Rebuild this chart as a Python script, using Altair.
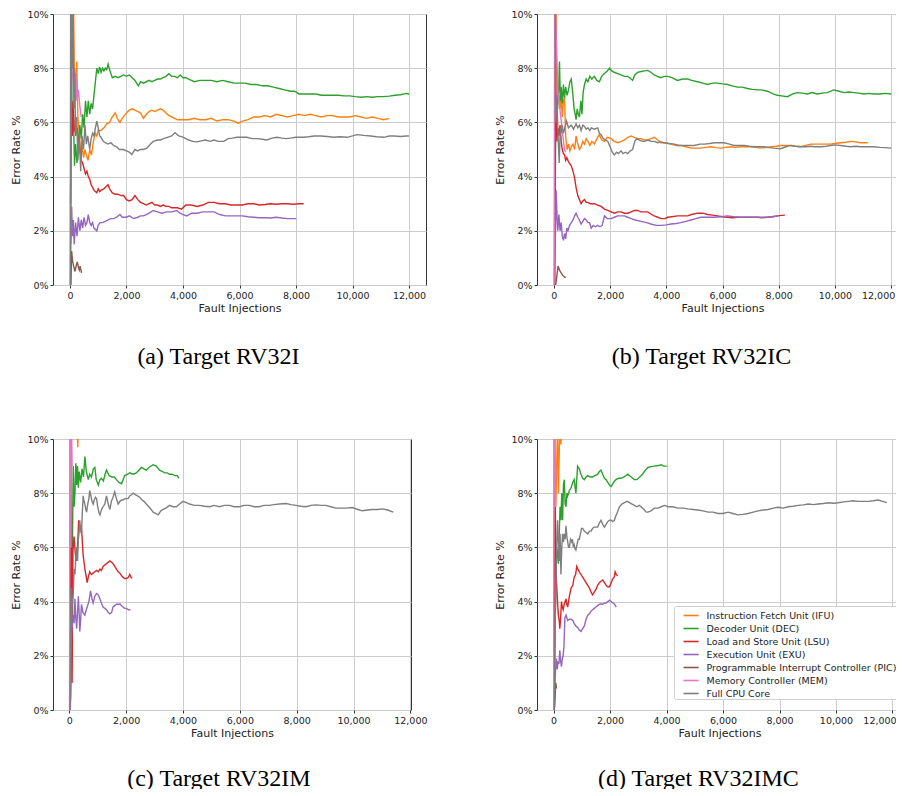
import altair as alt
import pandas as pd

SERIES = ["Instruction Fetch Unit (IFU)", "Decoder Unit (DEC)", "Load and Store Unit (LSU)",
          "Execution Unit (EXU)", "Programmable Interrupt Controller (PIC)",
          "Memory Controller (MEM)", "Full CPU Core"]
COLORS = ["#ff7f0e", "#2ca02c", "#d62728", "#9467bd", "#8c564b", "#e377c2", "#7f7f7f"]
X_TICKS = [0, 2000, 4000, 6000, 8000, 10000, 12000]
Y_TICKS = [0, 2, 4, 6, 8, 10]
CAPTIONS = ["(a) Target RV32I", "(b) Target RV32IC", "(c) Target RV32IM", "(d) Target RV32IMC"]

# ---------------- Panel (a) RV32I ----------------
A_IFU = [(20, 0), (40, 12), (80, 9), (120, 11), (160, 7.5), (200, 6.8), (240, 8.25), (280, 6.2), (330, 5.6),
         (380, 4.9), (430, 5.1), (480, 4.7), (530, 5.0), (580, 4.8), (640, 4.6), (700, 5.0), (760, 4.8),
         (830, 5.3), (900, 5.6), (950, 5.5), (1000, 5.7), (1100, 5.7), (1200, 5.8), (1300, 5.95), (1400, 6.0),
         (1500, 6.2), (1600, 6.35), (1700, 6.1), (1770, 6.0), (1850, 6.15), (2000, 6.35), (2100, 6.45),
         (2200, 6.5), (2300, 6.45), (2400, 6.4), (2500, 6.35), (2600, 6.15), (2700, 6.3), (2800, 6.4),
         (2900, 6.45), (3000, 6.4), (3100, 6.45), (3200, 6.5), (3300, 6.45), (3400, 6.35), (3500, 6.25),
         (3600, 6.2), (3700, 6.15), (3800, 6.1), (4000, 6.1), (4200, 6.1), (4400, 6.15), (4600, 6.1),
         (4800, 6.1), (5000, 6.15), (5200, 6.05), (5400, 6.1), (5600, 6.1), (5800, 6.05), (5950, 5.97),
         (6100, 6.05), (6300, 6.1), (6500, 6.2), (6700, 6.2), (6900, 6.25), (7100, 6.2), (7300, 6.3),
         (7500, 6.25), (7700, 6.2), (7900, 6.25), (8100, 6.3), (8300, 6.25), (8500, 6.3), (8700, 6.25),
         (8900, 6.2), (9100, 6.25), (9300, 6.25), (9500, 6.2), (9700, 6.2), (9900, 6.2), (10100, 6.25),
         (10300, 6.2), (10500, 6.15), (10700, 6.2), (10900, 6.15), (11100, 6.1), (11300, 6.15)]
A_DEC = [(20, 0), (50, 9), (80, 5.5), (120, 6.5), (160, 4.4), (200, 5.2), (250, 4.5), (300, 5.3), (350, 5.9),
         (400, 5.4), (450, 6.3), (500, 5.8), (550, 6.8), (600, 6.2), (650, 6.8), (700, 6.3), (750, 6.7),
         (800, 6.5), (850, 7.0), (900, 7.5), (950, 8.0), (1000, 7.8), (1050, 8.05), (1100, 7.85), (1150, 8.0),
         (1200, 7.9), (1250, 8.0), (1300, 7.95), (1350, 8.15), (1400, 7.95), (1450, 7.8), (1500, 7.65),
         (1600, 7.7), (1700, 7.65), (1800, 7.7), (1900, 7.75), (2000, 7.7), (2100, 7.75), (2200, 7.65),
         (2300, 7.55), (2420, 7.35), (2500, 7.5), (2600, 7.45), (2700, 7.5), (2800, 7.55), (2900, 7.5),
         (3000, 7.55), (3100, 7.6), (3200, 7.6), (3300, 7.65), (3400, 7.7), (3500, 7.8), (3600, 7.7),
         (3700, 7.7), (3800, 7.65), (3900, 7.75), (4000, 7.65), (4100, 7.65), (4200, 7.6), (4300, 7.55),
         (4400, 7.5), (4600, 7.55), (4800, 7.55), (5000, 7.55), (5200, 7.5), (5400, 7.55), (5600, 7.5),
         (5800, 7.45), (6000, 7.45), (6200, 7.45), (6400, 7.4), (6600, 7.4), (6800, 7.35), (7000, 7.35),
         (7200, 7.3), (7400, 7.25), (7600, 7.2), (7800, 7.15), (7950, 7.15), (8100, 7.05), (8300, 7.05),
         (8500, 7.05), (8700, 7.05), (8900, 7.0), (9100, 7.0), (9300, 7.0), (9500, 7.0), (9700, 6.98),
         (9900, 6.98), (10100, 6.95), (10300, 6.93), (10500, 6.95), (10700, 6.93), (10900, 6.95),
         (11100, 6.95), (11300, 6.97), (11500, 7.0), (11700, 7.02), (11900, 7.07), (12000, 7.05)]
A_LSU = [(20, 3.0), (50, 6.8), (80, 5.5), (110, 6.8), (150, 5.8), (200, 5.6), (250, 5.8), (300, 5.2), (350, 5.0),
         (400, 4.6), (450, 4.5), (500, 4.3), (550, 4.1), (600, 4.2), (650, 4.0), (700, 3.9), (750, 3.7),
         (800, 3.6), (850, 3.5), (900, 3.45), (950, 3.4), (1000, 3.55), (1050, 3.45), (1100, 3.5), (1200, 3.55),
         (1300, 3.65), (1350, 3.7), (1400, 3.55), (1500, 3.4), (1600, 3.35), (1700, 3.35), (1800, 3.3),
         (1900, 3.3), (2000, 3.15), (2100, 3.1), (2200, 3.15), (2300, 3.3), (2400, 3.15), (2500, 3.05),
         (2600, 3.0), (2700, 2.95), (2800, 3.0), (2900, 3.05), (3000, 2.95), (3100, 2.95), (3200, 2.9),
         (3300, 2.95), (3400, 2.9), (3500, 2.9), (3600, 2.85), (3800, 2.85), (3950, 2.8), (4100, 2.95),
         (4300, 2.95), (4500, 2.9), (4700, 2.95), (4900, 3.05), (5100, 3.05), (5300, 3.0), (5500, 3.0),
         (5700, 2.95), (5900, 2.95), (6100, 2.95), (6300, 3.0), (6500, 3.0), (6700, 2.95), (6900, 2.97),
         (7100, 3.0), (7300, 2.98), (7500, 3.0), (7700, 3.0), (7900, 2.98), (8100, 3.0), (8270, 3.0)]
A_EXU = [(30, 1.5), (60, 2.9), (90, 1.8), (120, 2.4), (150, 1.5), (200, 2.3), (250, 1.8), (300, 2.5), (350, 2.0),
         (400, 2.4), (450, 2.1), (500, 2.5), (550, 2.2), (600, 2.3), (650, 2.6), (700, 2.3), (750, 2.2),
         (800, 2.3), (850, 2.1), (950, 2.0), (1000, 2.2), (1060, 2.3), (1150, 2.3), (1250, 2.35), (1350, 2.4),
         (1450, 2.45), (1550, 2.45), (1650, 2.5), (1770, 2.6), (1850, 2.5), (2000, 2.5), (2100, 2.55),
         (2250, 2.45), (2400, 2.5), (2500, 2.55), (2600, 2.55), (2700, 2.6), (2800, 2.65), (2950, 2.75),
         (3100, 2.7), (3250, 2.65), (3430, 2.7), (3600, 2.7), (3780, 2.75), (3900, 2.65), (4000, 2.6),
         (4140, 2.55), (4300, 2.65), (4500, 2.65), (4700, 2.7), (4900, 2.7), (5100, 2.7), (5300, 2.6),
         (5500, 2.55), (5700, 2.55), (5900, 2.55), (6100, 2.55), (6300, 2.52), (6500, 2.5), (6700, 2.48),
         (6900, 2.48), (7100, 2.47), (7300, 2.5), (7500, 2.47), (7700, 2.45), (7900, 2.45), (8010, 2.45)]
A_PIC = [(30, 0), (60, 1.25), (90, 0.9), (130, 0.7), (180, 0.5), (220, 0.7), (260, 0.85), (300, 0.65),
         (330, 0.55), (360, 0.7), (410, 0.45)]
A_MEM = [(20, 2.0), (40, 11), (70, 8.0), (110, 7.5), (150, 6.9), (200, 7.8), (250, 6.8), (300, 7.2),
         (350, 6.6), (400, 6.2)]
A_CPU = [(10, 0), (30, 14), (50, 6), (70, 12), (90, 8), (110, 10.5), (140, 6.5), (170, 8), (200, 5.5),
         (240, 6.2), (280, 4.6), (330, 5.5), (380, 4.2), (430, 5.5), (480, 5.0), (530, 5.9), (580, 5.2),
         (630, 5.5), (700, 5.0), (750, 5.4), (800, 5.6), (850, 5.5), (900, 5.8), (950, 6.05), (1000, 5.8),
         (1050, 5.5), (1100, 5.45), (1180, 5.3), (1250, 5.25), (1350, 5.2), (1450, 5.25), (1540, 5.15),
         (1650, 5.1), (1750, 5.0), (1890, 5.0), (2000, 4.95), (2100, 4.9), (2190, 4.82), (2300, 5.0),
         (2400, 4.95), (2480, 5.0), (2600, 5.0), (2720, 5.05), (2850, 5.2), (2950, 5.3), (3100, 5.35),
         (3200, 5.35), (3310, 5.4), (3450, 5.45), (3600, 5.5), (3720, 5.62), (3850, 5.5), (4020, 5.45),
         (4200, 5.35), (4350, 5.3), (4490, 5.28), (4650, 5.32), (4800, 5.35), (4960, 5.3), (5100, 5.35),
         (5250, 5.3), (5440, 5.3), (5600, 5.4), (5750, 5.42), (5910, 5.45), (6100, 5.45), (6260, 5.45),
         (6450, 5.4), (6650, 5.4), (6800, 5.38), (6970, 5.35), (7150, 5.42), (7330, 5.45), (7500, 5.42),
         (7650, 5.4), (7800, 5.42), (8000, 5.45), (8270, 5.45), (8450, 5.47), (8650, 5.5), (8870, 5.5),
         (9100, 5.48), (9340, 5.45), (9550, 5.47), (9810, 5.45), (10000, 5.5), (10160, 5.55), (10400, 5.52),
         (10640, 5.5), (10850, 5.47), (11110, 5.45), (11300, 5.5), (11470, 5.5), (11700, 5.48), (11900, 5.5),
         (12000, 5.5)]

# ---------------- Panel (b) RV32IC ----------------
B_IFU = [(30, 0), (60, 12), (100, 8), (140, 6.8), (180, 7.0), (220, 6.5), (260, 6.9), (300, 6.2), (340, 6.8),
         (380, 6.9), (420, 5.5), (470, 5.0), (520, 5.2), (570, 4.95), (620, 5.1), (680, 5.2), (740, 5.0),
         (790, 5.5), (850, 5.2), (910, 5.0), (970, 5.1), (1030, 5.3), (1090, 5.2), (1150, 5.4), (1210, 5.3),
         (1280, 5.15), (1350, 5.3), (1440, 5.2), (1530, 5.4), (1620, 5.55), (1700, 5.35), (1800, 5.3),
         (1900, 5.45), (2040, 5.4), (2150, 5.3), (2270, 5.25), (2400, 5.3), (2510, 5.35), (2630, 5.45),
         (2750, 5.5), (2860, 5.45), (2980, 5.4), (3100, 5.4), (3220, 5.35), (3340, 5.35), (3450, 5.4),
         (3570, 5.45), (3700, 5.35), (3810, 5.25), (3950, 5.25), (4170, 5.2), (4350, 5.15), (4520, 5.15),
         (4700, 5.1), (4880, 5.05), (5050, 5.05), (5230, 5.05), (5400, 5.08), (5590, 5.1), (5750, 5.07),
         (5940, 5.05), (6100, 5.08), (6300, 5.1), (6450, 5.08), (6650, 5.1), (6800, 5.1), (7010, 5.1),
         (7200, 5.08), (7360, 5.05), (7550, 5.08), (7720, 5.1), (7900, 5.12), (8070, 5.15), (8250, 5.15),
         (8430, 5.15), (8600, 5.12), (8780, 5.1), (8950, 5.15), (9140, 5.2), (9300, 5.2), (9490, 5.2),
         (9700, 5.2), (9850, 5.2), (10000, 5.22), (10200, 5.25), (10400, 5.27), (10560, 5.3), (10750, 5.28),
         (10910, 5.25), (11170, 5.25)]
B_DEC = [(30, 0), (60, 5), (90, 7.0), (130, 6.5), (170, 7.2), (200, 8.25), (230, 6.8), (260, 7.3), (300, 6.7),
         (340, 7.4), (380, 6.9), (420, 7.3), (470, 7.0), (520, 7.2), (570, 7.5), (620, 7.6), (670, 7.1),
         (720, 6.5), (760, 6.3), (790, 6.1), (830, 6.5), (870, 6.3), (910, 6.2), (960, 6.8), (1000, 6.3),
         (1040, 7.1), (1090, 7.4), (1150, 7.6), (1210, 7.5), (1280, 7.7), (1350, 7.6), (1440, 7.7),
         (1530, 7.55), (1620, 7.5), (1700, 7.7), (1800, 7.8), (1900, 7.9), (1980, 8.0), (2060, 7.9),
         (2150, 7.85), (2270, 7.8), (2390, 7.75), (2510, 7.7), (2630, 7.7), (2750, 7.6), (2800, 7.55),
         (2880, 7.75), (2980, 7.85), (3100, 7.88), (3220, 7.9), (3340, 7.92), (3450, 7.85), (3570, 7.75),
         (3690, 7.7), (3800, 7.65), (3930, 7.7), (4050, 7.7), (4200, 7.65), (4400, 7.55), (4580, 7.6),
         (4760, 7.6), (4900, 7.55), (5110, 7.5), (5300, 7.45), (5470, 7.4), (5650, 7.45), (5820, 7.45),
         (6000, 7.42), (6180, 7.4), (6350, 7.35), (6530, 7.3), (6700, 7.3), (6890, 7.25), (7050, 7.22),
         (7240, 7.2), (7400, 7.2), (7600, 7.15), (7800, 7.05), (7950, 7.0), (8100, 6.98), (8310, 6.95),
         (8500, 7.05), (8660, 7.1), (8850, 7.08), (9020, 7.05), (9200, 7.1), (9370, 7.05), (9550, 7.08),
         (9730, 7.1), (9960, 7.2), (10150, 7.15), (10320, 7.1), (10500, 7.12), (10670, 7.1), (10850, 7.08),
         (11030, 7.05), (11200, 7.07), (11390, 7.05), (11600, 7.05), (11800, 7.07), (12000, 7.05)]
B_LSU = [(20, 0), (50, 10.5), (80, 6.0), (110, 5.3), (140, 5.8), (180, 5.5), (220, 5.9), (260, 5.3), (300, 5.0),
         (340, 4.85), (380, 4.8), (420, 4.6), (460, 4.7), (500, 4.6), (550, 4.5), (620, 4.4), (680, 4.2),
         (730, 4.0), (790, 3.6), (850, 3.3), (910, 3.15), (970, 3.0), (1030, 3.1), (1090, 3.15), (1150, 3.05),
         (1210, 3.05), (1300, 3.0), (1440, 3.0), (1560, 2.95), (1680, 2.9), (1800, 2.8), (1920, 2.75),
         (2040, 2.7), (2150, 2.65), (2270, 2.7), (2390, 2.7), (2510, 2.65), (2630, 2.65), (2750, 2.7),
         (2860, 2.75), (2980, 2.75), (3100, 2.7), (3220, 2.7), (3340, 2.7), (3450, 2.62), (3570, 2.55),
         (3700, 2.5), (3810, 2.45), (3950, 2.45), (4050, 2.5), (4200, 2.52), (4400, 2.55), (4580, 2.55),
         (4760, 2.55), (4900, 2.6), (5110, 2.65), (5300, 2.65), (5470, 2.6), (5650, 2.58), (5820, 2.55),
         (6000, 2.52), (6180, 2.5), (6350, 2.48), (6530, 2.5), (6700, 2.5), (6890, 2.5), (7050, 2.5),
         (7240, 2.5), (7400, 2.48), (7600, 2.5), (7800, 2.52), (7950, 2.55), (8100, 2.57), (8220, 2.58)]
B_EXU = [(30, 1.0), (60, 2.0), (80, 3.5), (110, 2.6), (140, 2.0), (180, 2.6), (220, 2.0), (260, 2.3), (300, 1.8),
         (340, 1.65), (380, 1.9), (420, 1.7), (460, 2.1), (500, 2.0), (560, 2.2), (620, 2.3), (680, 2.4),
         (740, 2.55), (790, 2.65), (850, 2.5), (910, 2.4), (970, 2.25), (1030, 2.35), (1090, 2.45),
         (1150, 2.4), (1210, 2.3), (1270, 2.3), (1330, 2.1), (1400, 2.2), (1480, 2.15), (1560, 2.2),
         (1640, 2.15), (1720, 2.2), (1800, 2.55), (1900, 2.45), (2040, 2.45), (2150, 2.5), (2270, 2.55),
         (2390, 2.55), (2510, 2.55), (2630, 2.5), (2750, 2.45), (2900, 2.4), (3100, 2.35), (3300, 2.3),
         (3450, 2.25), (3650, 2.2), (3810, 2.2), (4000, 2.22), (4170, 2.25), (4350, 2.27), (4520, 2.3),
         (4700, 2.35), (4880, 2.4), (5050, 2.45), (5230, 2.5), (5450, 2.5), (5700, 2.5), (5950, 2.52),
         (6180, 2.55), (6400, 2.52), (6650, 2.5), (6900, 2.5), (7120, 2.5), (7350, 2.5), (7600, 2.5),
         (7800, 2.53), (8010, 2.55)]
B_PIC = [(60, 0), (90, 0.2), (150, 0.7), (200, 0.55), (260, 0.45), (320, 0.35), (380, 0.3), (420, 0.27)]
B_MEM = [(10, 0), (30, 12), (60, 10), (100, 8.5), (150, 7.0), (200, 6.6), (260, 6.1), (320, 5.5), (380, 5.0),
         (420, 4.9)]
B_CPU = [(20, 10), (40, 12), (60, 6.0), (90, 7.0), (120, 6.5), (150, 5.5), (190, 4.5), (230, 5.8), (260, 5.6),
         (300, 5.9), (340, 5.6), (380, 5.75), (450, 6.05), (520, 5.8), (620, 5.9), (700, 5.75), (790, 5.95),
         (850, 5.8), (910, 5.9), (970, 5.7), (1030, 5.9), (1090, 5.85), (1150, 5.75), (1210, 5.8), (1280, 5.7),
         (1330, 5.8), (1440, 5.75), (1560, 5.8), (1620, 5.6), (1680, 5.55), (1760, 5.4), (1850, 5.35),
         (1920, 5.3), (2000, 5.1), (2080, 4.9), (2150, 4.8), (2230, 4.9), (2300, 4.85), (2390, 4.95),
         (2460, 4.85), (2550, 4.9), (2630, 4.85), (2720, 4.95), (2800, 5.0), (2880, 5.3), (2950, 5.4),
         (3050, 5.35), (3150, 5.3), (3220, 5.3), (3350, 5.35), (3450, 5.3), (3570, 5.3), (3700, 5.25),
         (3800, 5.28), (3930, 5.25), (4100, 5.22), (4290, 5.2), (4450, 5.15), (4640, 5.15), (4800, 5.15),
         (5000, 5.15), (5200, 5.2), (5350, 5.2), (5550, 5.22), (5710, 5.25), (5900, 5.25), (6060, 5.25),
         (6250, 5.2), (6410, 5.15), (6600, 5.15), (6770, 5.15), (6950, 5.12), (7120, 5.1), (7300, 5.1),
         (7480, 5.1), (7650, 5.07), (7830, 5.05), (8070, 5.03), (8250, 5.1), (8430, 5.15), (8600, 5.12),
         (8780, 5.1), (8950, 5.1), (9140, 5.12), (9300, 5.1), (9490, 5.1), (9700, 5.12), (9850, 5.15),
         (10000, 5.17), (10200, 5.15), (10400, 5.12), (10560, 5.1), (10750, 5.12), (10910, 5.1),
         (11150, 5.1), (11390, 5.1), (11600, 5.08), (11800, 5.07), (12000, 5.05)]

# ---------------- Panel (c) RV32IM ----------------
C_IFU = [(20, 0), (35, 12), (60, 9.0), (90, 11), (150, 11), (200, 10.8), (260, 11.5), (300, 9.7), (320, 10.5)]
C_DEC = [(20, 0), (50, 0.5), (80, 2.5), (110, 6), (140, 9.0), (170, 7.5), (200, 8.0), (230, 9.1), (260, 8.3),
         (290, 9.0), (320, 8.2), (350, 8.8), (400, 8.4), (450, 8.9), (500, 8.6), (550, 9.35), (600, 8.8),
         (670, 8.5), (720, 8.7), (780, 8.6), (850, 8.9), (900, 8.95), (950, 8.5), (1020, 8.3), (1080, 8.5),
         (1130, 8.55), (1200, 8.45), (1260, 8.7), (1310, 8.85), (1400, 8.65), (1490, 8.6), (1580, 8.6),
         (1660, 8.5), (1750, 8.4), (1840, 8.35), (1950, 8.65), (2050, 8.7), (2130, 8.75), (2250, 8.7),
         (2360, 8.75), (2450, 8.85), (2540, 8.95), (2630, 8.9), (2710, 8.85), (2800, 8.95), (2950, 9.05),
         (3060, 9.0), (3180, 8.85), (3280, 8.8), (3360, 8.75), (3450, 8.75), (3530, 8.7), (3620, 8.7),
         (3710, 8.65), (3800, 8.65), (3860, 8.55)]
C_LSU = [(40, 2), (70, 8.9), (100, 1.0), (130, 5.9), (170, 6.4), (210, 5.8), (260, 5.5), (300, 6.2), (330, 7.0),
         (370, 6.8), (430, 6.7), (490, 5.7), (550, 5.2), (600, 4.9), (630, 4.7), (680, 4.95), (720, 5.1),
         (780, 5.0), (840, 5.05), (900, 5.1), (960, 5.15), (1020, 5.1), (1080, 5.2), (1130, 5.15), (1190, 5.3),
         (1250, 5.35), (1310, 5.4), (1370, 5.45), (1430, 5.5), (1490, 5.45), (1540, 5.4), (1600, 5.3),
         (1660, 5.2), (1720, 5.1), (1780, 5.05), (1840, 4.95), (1890, 4.9), (1950, 4.85), (2010, 4.85),
         (2080, 4.9), (2130, 5.0), (2170, 4.9), (2210, 4.85)]
C_EXU = [(40, 0), (60, 2.0), (80, 2.8), (110, 3.2), (140, 3.5), (170, 3.2), (200, 4.1), (230, 3.4), (260, 3.0),
         (290, 3.6), (320, 4.2), (350, 3.5), (370, 2.9), (400, 3.3), (430, 3.9), (480, 3.6), (550, 3.5),
         (600, 3.7), (630, 3.8), (690, 4.0), (750, 4.4), (800, 4.1), (840, 3.95), (900, 4.2), (960, 4.3),
         (1020, 4.25), (1080, 4.1), (1130, 3.95), (1190, 3.8), (1250, 3.75), (1310, 3.7), (1370, 3.6),
         (1430, 3.55), (1490, 3.6), (1540, 3.8), (1600, 3.85), (1660, 3.9), (1720, 3.9), (1780, 3.92),
         (1840, 3.85), (1890, 3.8), (1950, 3.75), (2010, 3.75), (2080, 3.7), (2150, 3.7)]
C_PIC = []
C_MEM = [(10, 0), (25, 12), (45, 8.0), (60, 6.0), (80, 10.5), (100, 9.0)]
C_CPU = [(20, 0), (40, 1.5), (60, 4.5), (80, 3.0), (110, 4.0), (140, 4.3), (170, 5.2), (200, 5.0), (230, 5.6),
         (260, 6.0), (290, 5.5), (320, 6.3), (350, 6.6), (370, 7.0), (400, 6.6), (430, 6.5), (460, 7.3),
         (490, 7.9), (520, 7.7), (550, 7.6), (580, 7.4), (610, 7.3), (650, 7.6), (690, 7.8), (720, 8.1),
         (760, 7.9), (800, 7.7), (840, 7.6), (880, 7.75), (920, 7.85), (960, 7.8), (1000, 7.5), (1040, 7.3),
         (1080, 7.2), (1120, 7.35), (1160, 7.45), (1190, 7.5), (1250, 7.6), (1310, 7.9), (1370, 7.6),
         (1430, 7.4), (1480, 7.7), (1540, 7.85), (1600, 8.05), (1660, 7.8), (1720, 7.6), (1780, 7.7),
         (1840, 7.75), (1890, 7.75), (1950, 7.8), (2010, 7.8), (2070, 7.8), (2130, 7.9), (2200, 7.95),
         (2250, 8.0), (2320, 7.95), (2400, 7.9), (2480, 7.85), (2560, 7.75), (2630, 7.7), (2710, 7.6),
         (2800, 7.5), (2880, 7.4), (2950, 7.3), (3050, 7.25), (3130, 7.2), (3220, 7.35), (3300, 7.4),
         (3400, 7.45), (3530, 7.55), (3650, 7.5), (3770, 7.5), (3880, 7.6), (4000, 7.7), (4120, 7.65),
         (4230, 7.6), (4400, 7.55), (4580, 7.55), (4760, 7.52), (4940, 7.5), (5100, 7.55), (5290, 7.5),
         (5450, 7.55), (5640, 7.55), (5800, 7.5), (5990, 7.5), (6150, 7.55), (6340, 7.55), (6500, 7.5),
         (6690, 7.5), (6850, 7.55), (7040, 7.55), (7200, 7.58), (7390, 7.6), (7630, 7.62), (7800, 7.58),
         (7970, 7.55), (8150, 7.52), (8330, 7.5), (8500, 7.55), (8680, 7.57), (8850, 7.55), (9030, 7.55),
         (9200, 7.5), (9380, 7.45), (9550, 7.45), (9730, 7.45), (9960, 7.47), (10150, 7.4), (10310, 7.35),
         (10500, 7.38), (10670, 7.4), (10850, 7.4), (11020, 7.42), (11200, 7.38), (11400, 7.3)]

# ---------------- Panel (d) RV32IMC ----------------
D_IFU = [(10, 0), (25, 12), (50, 9.5), (80, 7.5), (110, 9.0), (140, 10.5), (170, 8.0), (200, 9.5), (230, 11),
         (260, 9.8), (290, 11), (320, 12)]
D_DEC = [(20, 0), (50, 3.0), (80, 4.5), (110, 6.0), (140, 5.8), (170, 5.4), (200, 6.5), (230, 7.5), (260, 7.0),
         (290, 8.0), (320, 7.0), (350, 8.3), (380, 8.5), (410, 7.6), (440, 7.5), (470, 8.0), (500, 7.9),
         (560, 8.1), (620, 8.2), (680, 8.4), (730, 8.5), (790, 8.0), (850, 9.0), (910, 8.9), (970, 8.7),
         (1030, 8.55), (1090, 8.5), (1150, 8.6), (1210, 8.65), (1290, 8.6), (1380, 8.6), (1470, 8.65),
         (1560, 8.7), (1620, 8.8), (1680, 8.85), (1740, 8.7), (1800, 8.55), (1860, 8.5), (1920, 8.4),
         (1980, 8.3), (2040, 8.25), (2100, 8.35), (2160, 8.45), (2210, 8.5), (2300, 8.55), (2390, 8.55),
         (2500, 8.6), (2630, 8.7), (2750, 8.6), (2860, 8.5), (2950, 8.5), (3050, 8.6), (3150, 8.7),
         (3250, 8.85), (3340, 8.95), (3450, 8.98), (3570, 9.0), (3700, 9.02), (3810, 9.05), (3900, 9.0),
         (4010, 9.0)]
D_LSU = [(20, 0), (40, 5), (60, 7.5), (90, 5.0), (120, 4.4), (150, 3.8), (170, 3.5), (200, 3.3), (220, 3.0),
         (250, 3.4), (280, 4.0), (310, 3.8), (340, 3.7), (390, 3.95), (440, 4.1), (470, 3.9), (500, 3.8),
         (560, 4.2), (620, 4.5), (680, 4.6), (730, 4.9), (780, 5.0), (820, 5.3), (860, 5.2), (910, 5.1),
         (970, 5.0), (1030, 4.9), (1090, 4.8), (1150, 4.7), (1210, 4.6), (1270, 4.5), (1330, 4.35),
         (1380, 4.25), (1440, 4.35), (1500, 4.45), (1560, 4.6), (1620, 4.7), (1680, 4.75), (1740, 4.8),
         (1800, 4.7), (1860, 4.6), (1920, 4.55), (1980, 4.55), (2040, 4.7), (2100, 4.85), (2150, 4.9),
         (2180, 5.1), (2220, 5.0), (2270, 4.95)]
D_EXU = [(30, 0), (50, 1.0), (70, 1.5), (100, 1.9), (130, 1.5), (160, 1.8), (190, 1.7), (220, 2.2), (250, 1.8),
         (280, 1.6), (310, 1.9), (340, 2.0), (370, 2.4), (400, 3.4), (440, 3.5), (500, 3.3), (560, 3.35),
         (620, 3.35), (680, 3.3), (730, 3.2), (790, 3.1), (850, 3.05), (910, 2.95), (970, 2.9), (1030, 3.0),
         (1090, 3.1), (1150, 3.35), (1210, 3.5), (1270, 3.55), (1330, 3.65), (1380, 3.7), (1440, 3.75),
         (1500, 3.8), (1560, 3.85), (1620, 3.9), (1680, 3.92), (1740, 3.9), (1800, 3.95), (1860, 3.95),
         (1920, 4.0), (1980, 4.05), (2040, 4.0), (2100, 3.95), (2160, 3.9), (2220, 3.8)]
D_PIC = [(20, 0), (40, 0.2), (60, 0.6), (80, 1.0), (100, 0.8)]
D_MEM = [(5, 0), (15, 12), (30, 8.5), (45, 10.5), (60, 7.5), (75, 9.0)]
D_CPU = [(20, 0), (40, 1.0), (60, 3.5), (80, 4.5), (110, 6.0), (140, 7.0), (170, 6.2), (200, 5.5), (230, 6.5),
         (260, 5.0), (290, 6.0), (320, 6.5), (350, 6.2), (380, 6.5), (410, 6.3), (440, 6.8), (470, 6.4),
         (500, 6.2), (530, 6.0), (560, 6.0), (600, 6.3), (640, 6.2), (670, 6.3), (700, 6.0), (730, 6.1),
         (760, 5.95), (790, 5.9), (830, 6.1), (870, 6.3), (910, 6.3), (950, 6.5), (990, 6.7), (1030, 6.7),
         (1090, 6.6), (1150, 6.55), (1210, 6.5), (1270, 6.6), (1330, 6.6), (1380, 6.7), (1440, 6.75),
         (1500, 6.75), (1560, 6.75), (1620, 6.9), (1680, 7.0), (1740, 6.85), (1800, 6.75), (1860, 6.85),
         (1920, 6.95), (1980, 7.0), (2040, 7.0), (2100, 6.95), (2150, 7.0), (2200, 7.15), (2260, 7.3),
         (2330, 7.5), (2420, 7.6), (2510, 7.65), (2600, 7.7), (2690, 7.65), (2780, 7.6), (2860, 7.55),
         (2950, 7.5), (3030, 7.55), (3100, 7.5), (3200, 7.4), (3280, 7.3), (3340, 7.3), (3450, 7.35),
         (3570, 7.45), (3690, 7.45), (3810, 7.5), (3930, 7.55), (4050, 7.5), (4220, 7.5), (4400, 7.45),
         (4580, 7.45), (4760, 7.42), (4940, 7.4), (5110, 7.38), (5290, 7.35), (5470, 7.3), (5640, 7.3),
         (5820, 7.25), (6000, 7.25), (6180, 7.3), (6350, 7.25), (6530, 7.2), (6700, 7.22), (6890, 7.25),
         (7070, 7.3), (7240, 7.35), (7420, 7.38), (7600, 7.4), (7780, 7.45), (7950, 7.48), (8130, 7.45),
         (8310, 7.5), (8480, 7.52), (8660, 7.55), (8840, 7.57), (9020, 7.6), (9200, 7.58), (9370, 7.6),
         (9550, 7.62), (9730, 7.65), (9900, 7.63), (10080, 7.65), (10260, 7.68), (10440, 7.7), (10600, 7.72),
         (10790, 7.7), (10970, 7.7), (11150, 7.7), (11320, 7.72), (11500, 7.75), (11650, 7.7), (11800, 7.65)]

PANELS = [
    [A_IFU, A_DEC, A_LSU, A_EXU, A_PIC, A_MEM, A_CPU],
    [B_IFU, B_DEC, B_LSU, B_EXU, B_PIC, B_MEM, B_CPU],
    [C_IFU, C_DEC, C_LSU, C_EXU, C_PIC, C_MEM, C_CPU],
    [D_IFU, D_DEC, D_LSU, D_EXU, D_PIC, D_MEM, D_CPU],
]
X_DOMAINS = [(-600, 12600), (-600, 12600), (-572, 12022), (-587, 12337)]
WIDTHS = [373, 371, 358, 365]
HEIGHT = 271
CAPTION_OFFSETS = [31, 31, 28, 28]
LAST_LABEL_SHIFT = [0, -13, 0, -13]

FONT = "DejaVu Sans"
TXT = "#222222"


def make_panel(i):
    rows = []
    for name, pts in zip(SERIES, PANELS[i]):
        for x, y in pts:
            rows.append({"series": name, "x": x, "y": y})
    df = pd.DataFrame(rows)
    if i == 3:
        legend = alt.Legend(title=None, orient="none", legendX=137, legendY=167,
                            symbolType="M0,0L2.09,0", symbolSize=210, symbolStrokeWidth=1.6,
                            labelFont=FONT, labelFontSize=9.5, labelColor=TXT, labelLimit=300,
                            labelOffset=14.5, padding=1, rowPadding=0, fillColor="white",
                            strokeColor="#d0d0d0", cornerRadius=2)
    else:
        legend = None
    x_kwargs = {}
    if LAST_LABEL_SHIFT[i]:
        x_kwargs["labelOffset"] = alt.ExprRef(f"datum.value == 12000 ? {LAST_LABEL_SHIFT[i]} : 0")
    xaxis = alt.Axis(values=X_TICKS, format=",d", title="Fault Injections", grid=True,
                     gridColor="#cccccc", domain=False, tickSize=3, tickColor="#333333",
                     labelPadding=2, titlePadding=3, labelFont=FONT, labelFontSize=9.5,
                     labelColor=TXT, titleFont=FONT, titleFontSize=11, titleFontWeight="normal",
                     titleColor=TXT, labelFlush=False, **x_kwargs)
    yaxis = alt.Axis(values=Y_TICKS, labelExpr="datum.value + '%'", title="Error Rate %", grid=True,
                     gridColor="#cccccc", domain=False, tickSize=3, tickColor="#333333",
                     labelPadding=2, titlePadding=5, labelFont=FONT, labelFontSize=9.5,
                     labelColor=TXT, titleFont=FONT, titleFontSize=11, titleFontWeight="normal",
                     titleColor=TXT)
    chart = alt.Chart(df).mark_line(strokeWidth=1.4, clip=True).encode(
        x=alt.X("x:Q", scale=alt.Scale(domain=list(X_DOMAINS[i]), nice=False, zero=False), axis=xaxis),
        y=alt.Y("y:Q", scale=alt.Scale(domain=[0, 10], nice=False), axis=yaxis),
        color=alt.Color("series:N", scale=alt.Scale(domain=SERIES, range=COLORS), legend=legend),
    ).properties(
        width=WIDTHS[i], height=HEIGHT,
        title=alt.TitleParams(text=CAPTIONS[i], orient="bottom", frame="bounds", anchor="middle",
                              font="Liberation Serif", fontSize=24, fontWeight="normal",
                              color="black", offset=CAPTION_OFFSETS[i]),
    )
    return chart


chart = alt.concat(
    *[make_panel(i) for i in range(4)],
    columns=2, spacing={"row": 154, "column": 111}, bounds="flush",
).resolve_legend(color="independent").configure_view(
    stroke="#333333", strokeWidth=1
).properties(padding={"left": 2, "top": 0, "right": -13, "bottom": -2})

chart.save("out.html", embed_options={"renderer": "svg", "actions": False})
